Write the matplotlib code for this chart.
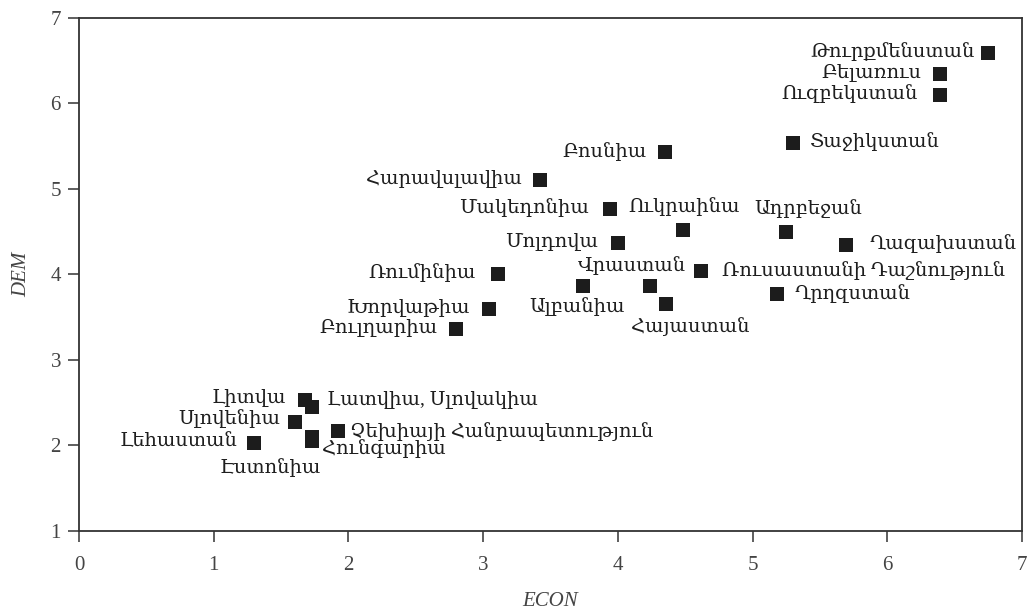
import matplotlib
matplotlib.use("Agg")
import matplotlib.pyplot as plt

plt.rcParams['font.family'] = ['Liberation Serif', 'DejaVu Serif']

countries = [
    "Թուրքմենստան", "Բելառուս", "Ուզբեկստան", "Տաջիկստան",
    "Բոսնիա", "Հարավսլավիա", "Մակեդոնիա", "Ուկրաինա", "Մոլդովա",
    "Ադրբեջան", "Ղազախստան", "Ռումինիա", "Վրաստան",
    "Ռուսաստանի Դաշնություն", "Ղրղզստան", "Ալբանիա", "Հայաստան",
    "Խորվաթիա", "Բուլղարիա", "Լիտվա", "Լատվիա, Սլովակիա", "",
    "Սլովենիա", "Չեխիայի Հանրապետություն", "Լեհաստան", "Հունգարիա", "Էստոնիա",
]
econ = [6.75, 6.39, 6.39, 5.30,
        4.35, 3.42, 3.94, 4.48, 4.00,
        5.25, 5.69, 3.11, 4.24,
        4.62, 5.18, 3.74, 4.36,
        3.04, 2.80, 1.68, 1.73, 1.73,
        1.60, 1.92, 1.30, 1.73, 1.73]
dem = [6.59, 6.35, 6.10, 5.54,
       5.43, 5.10, 4.77, 4.52, 4.37,
       4.50, 4.35, 4.01, 3.86,
       4.04, 3.77, 3.86, 3.66,
       3.60, 3.36, 2.53, 2.45, 2.45,
       2.27, 2.17, 2.03, 2.10, 2.05]

# label placement: (dx, dy in pixels, ha)
offsets = [(-14, 1, 'right'), (-19, 1, 'right'), (-22, 1, 'right'), (17, 1, 'left'),
           (-18, 1, 'right'), (-18, 1, 'right'), (-21, 1, 'right'), (2, 23, 'center'), (-20, 1, 'right'),
           (22, 23, 'center'), (24, 1, 'left'), (-22, 1, 'right'), (-18, 21, 'center'),
           (21, 1, 'left'), (18, 1, 'left'), (-6, -20, 'center'), (24, -23, 'center'),
           (-19, 1, 'right'), (-19, 1, 'right'), (-19, 2, 'right'), (15, 7, 'left'), (0, 0, 'left'),
           (-14, 4, 'right'), (12, -1, 'left'), (-17, 1, 'right'), (10, -12, 'left'), (-42, -26, 'center')]

fig = plt.figure(figsize=(10.29, 6.14), dpi=100)
ax = fig.add_axes([0.0768, 0.1352, 0.9164, 0.8355])

ax.plot(econ, dem, linestyle='none', marker='s', markersize=10.5,
        color='#1c1c1c', markeredgewidth=0)

for name, x, y, (dx, dy, ha) in zip(countries, econ, dem, offsets):
    if name:
        ax.annotate(name, (x, y), xytext=(dx, dy), textcoords='offset pixels',
                    ha=ha, va='center', fontsize=14, color='#1e1e1e')

ax.set_xlim(0, 7)
ax.set_ylim(1, 7)
ax.set_xticks(range(0, 8))
ax.set_yticks(range(1, 8))
ax.tick_params(direction='out', length=8, width=1.1, colors='#333333',
               labelsize=15, labelcolor='#444444')
ax.tick_params(axis='x', pad=10)
ax.tick_params(axis='y', pad=5)
for s in ax.spines.values():
    s.set_linewidth(1.3)
    s.set_color('#333333')

ax.set_xlabel('ECON', fontsize=15, style='italic', color='#444444', labelpad=12)
ax.set_ylabel('DEM', fontsize=15, style='italic', color='#444444', labelpad=14)

fig.savefig('out.png', dpi=100)
